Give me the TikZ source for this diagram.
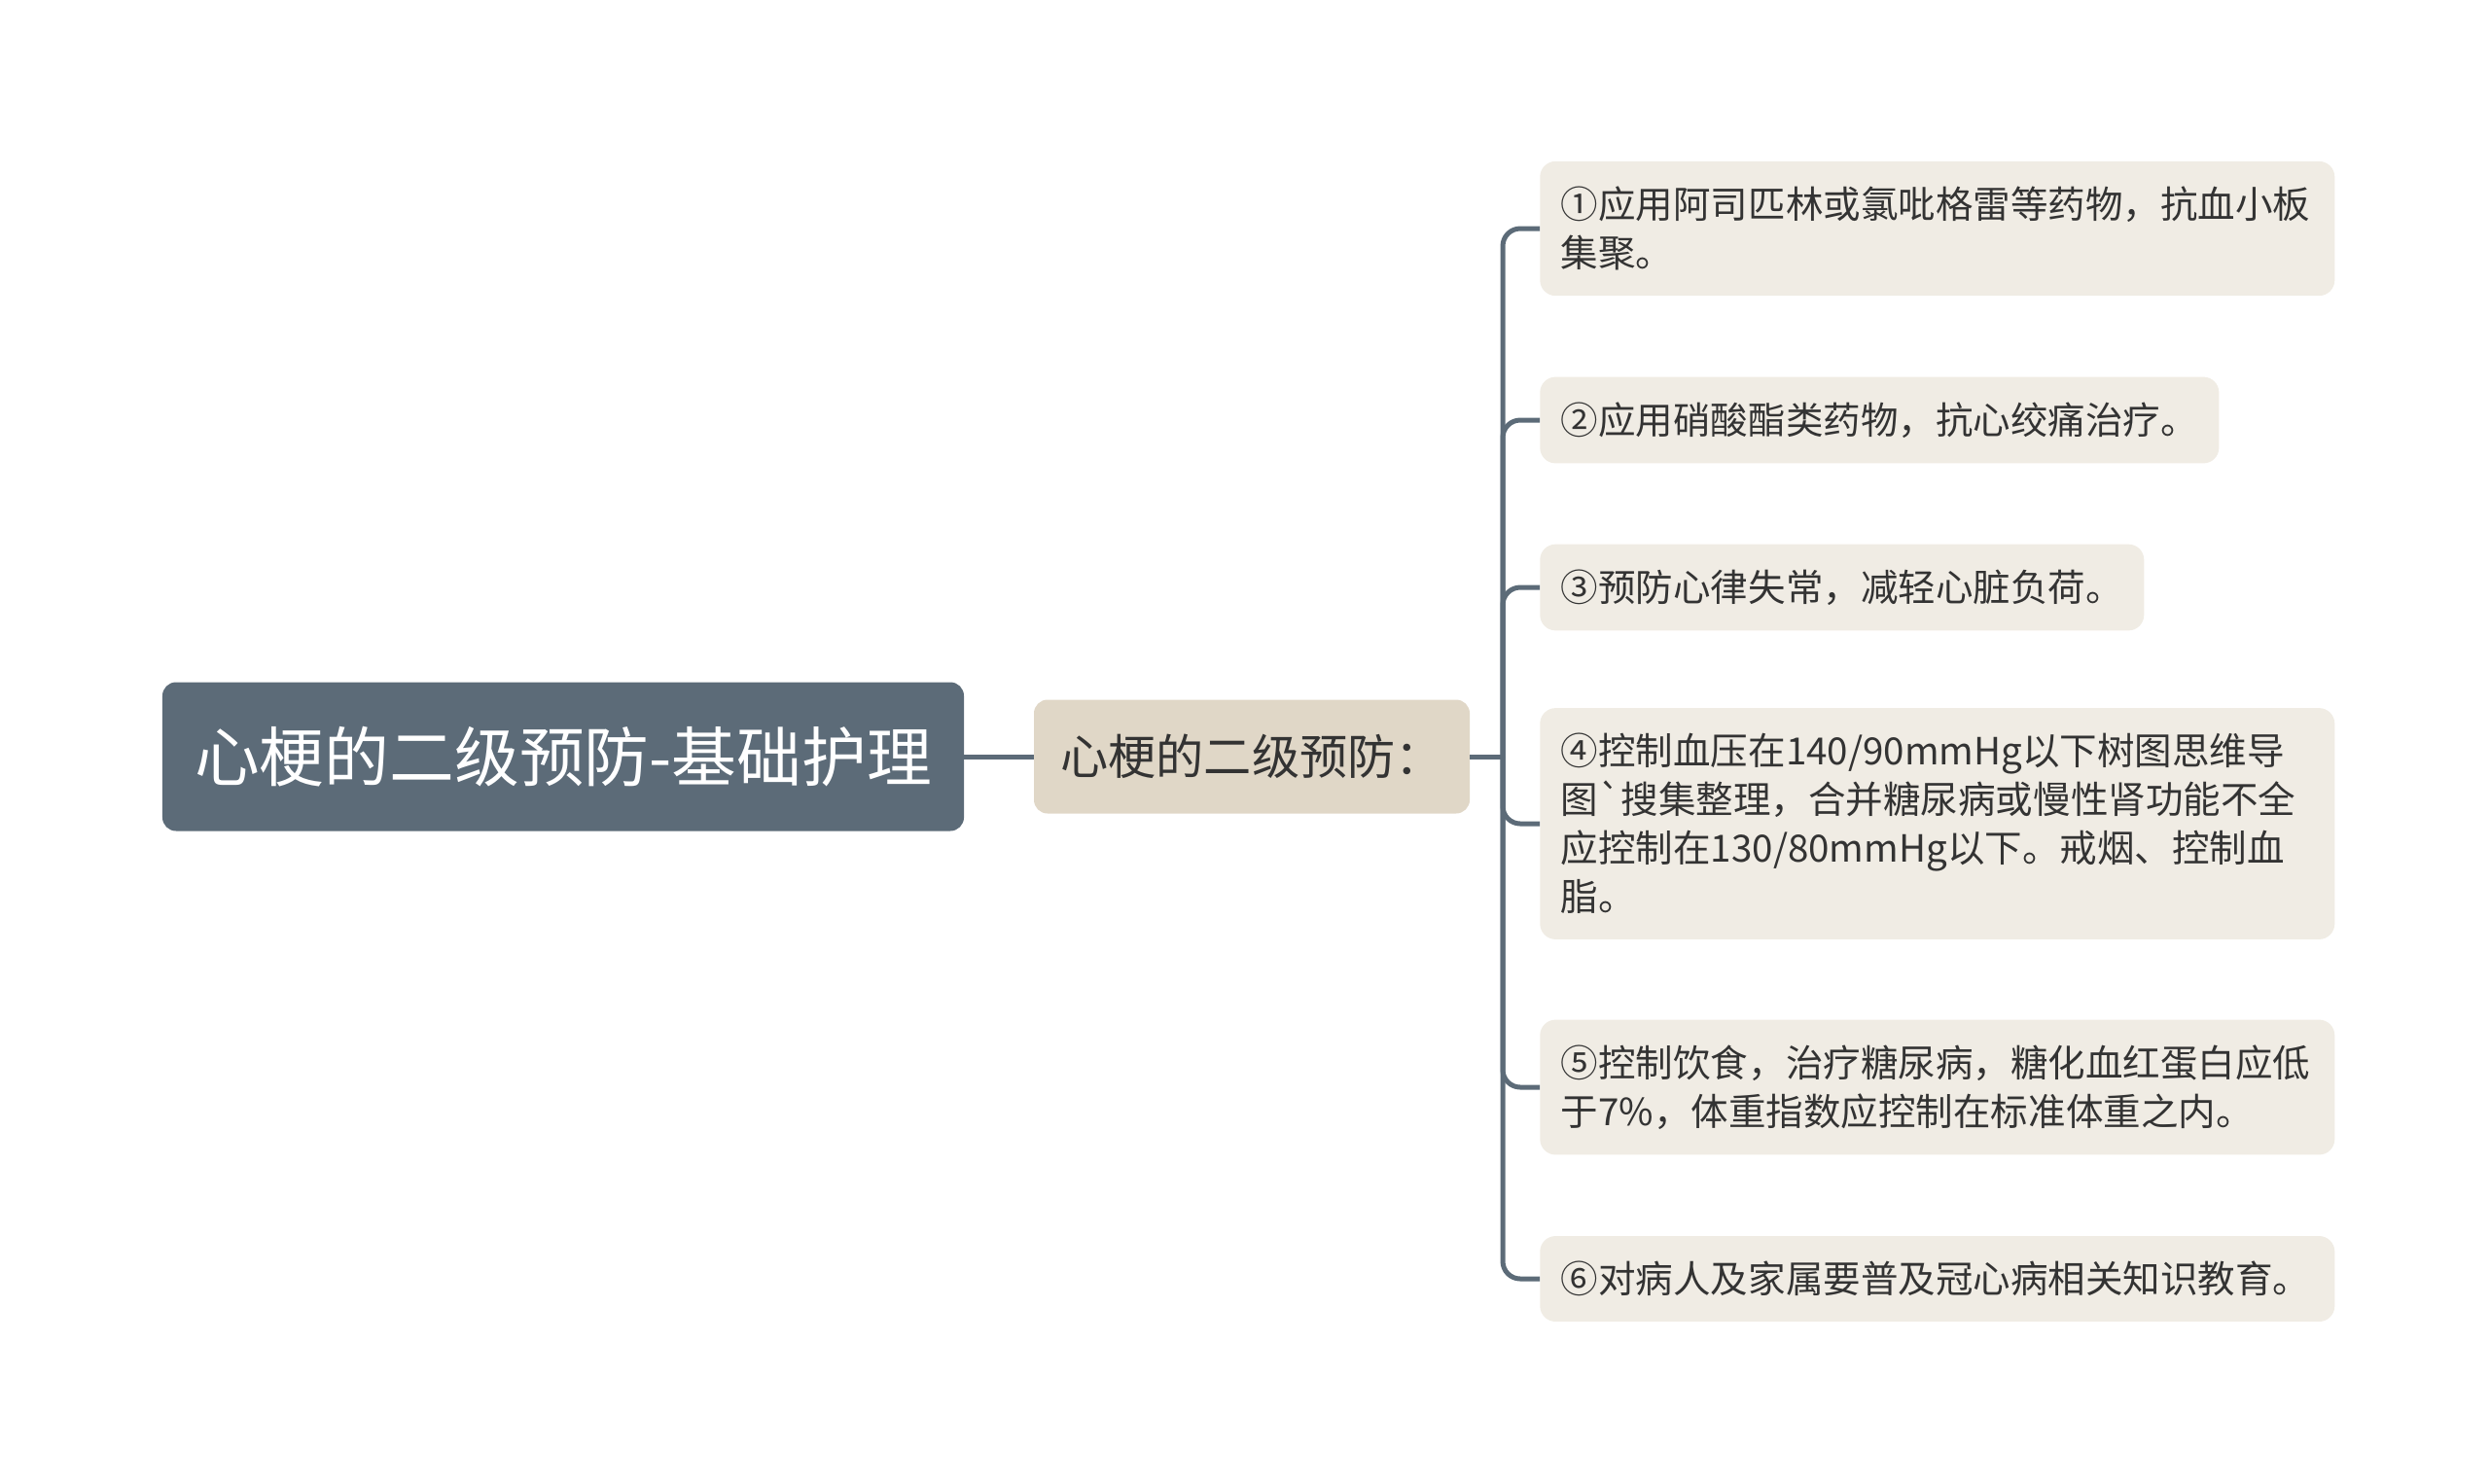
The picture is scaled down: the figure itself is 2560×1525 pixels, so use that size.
\documentclass[tikz,border=0pt]{standalone}
\usepackage{fontspec}
\newfontfamily\cjk{Noto Sans CJK SC}
\usepackage{tikz}

\definecolor{topicfill}{HTML}{5C6B78}
\definecolor{subfill}{HTML}{E0D7C7}
\definecolor{leaffill}{HTML}{F0ECE4}
\definecolor{linkcol}{HTML}{5C6B78}
\definecolor{txt}{HTML}{333333}

\begin{document}
\begin{tikzpicture}[x=0.25mm,y=-0.25mm,
  topic/.style={fill=topicfill,rounded corners=3.5mm,text=white,minimum width=206mm,minimum height=38.25mm,font=\cjk\fontsize{47.5pt}{57pt}\selectfont},
  sub/.style={fill=subfill,rounded corners=3.5mm,text=txt,minimum width=112mm,minimum height=29.25mm,font=\cjk\fontsize{35pt}{42pt}\selectfont},
  leaf/.style={fill=leaffill,rounded corners=4mm,text=txt,anchor=west,align=left,inner xsep=5.4mm,inner ysep=6.5mm,font=\cjk\fontsize{27.4pt}{35.6pt}\selectfont},
  wide/.style={leaf,text width=193.45mm},
  link/.style={draw=linkcol,line width=1.25mm}]
\useasboundingbox (0,0) rectangle (2560,1525);

\node[topic] (topic) at (579,778) {心梗的二级预防-基础护理};
\node[sub] (sub) at (1287,778) {心梗的二级预防：};

\node[wide] (p1) at (1583,235) {①应用阿司匹林或氯吡格雷等药物，抗血小板\\集聚。};
\node[leaf] (p2) at (1583,432) {②应用硝酸酯类药物，抗心绞痛治疗。};
\node[leaf] (p3) at (1583,604) {③预防心律失常，减轻心脏负荷。};
\node[wide] (p4) at (1583,847) {④控制血压在140/90mmHg以下树图思维导\\图`搜集整理，合并糖尿病或慢性肾功能不全\\应控制在130/80mmHg以下。戒烟、控制血\\脂。};
\node[wide] (p5) at (1583,1118) {⑤控制饮食，治疗糖尿病，糖化血红蛋白应低\\于7\%，体重指数应控制在标准体重之内。};
\node[wide] (p6) at (1583,1315) {⑥对病人及家属要普及冠心病相关知识教育。};

\coordinate (bus) at (1545,778);
\draw[link] (topic) -- (sub);
\draw[link] (sub) -- (bus);
\foreach \i in {1,...,6}
  \draw[link,rounded corners=4.5mm] (bus) |- (p\i.west);
\end{tikzpicture}
\end{document}
